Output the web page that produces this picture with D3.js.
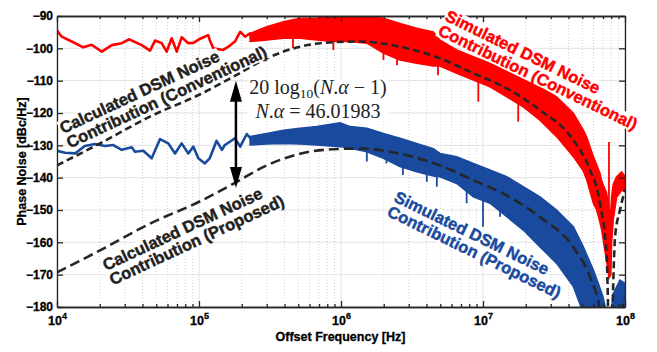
<!DOCTYPE html>
<html>
<head>
<meta charset="utf-8">
<script src="https://cdn.jsdelivr.net/npm/d3@7"></script>
<style>
  body { margin: 0; background: #fff; }
  svg { display: block; font-family: "Liberation Sans", Arial, sans-serif; }
</style>
</head>
<body>
<div id="chart"></div>
<script>
// ---- data: [frequency Hz, dBc/Hz] ----
const redLow = [[1.0e4,-94.5],[1.08e4,-96.4],[1.27e4,-97.9],[1.53e4,-99.7],[1.75e4,-98.9],[2.07e4,-101.0],
  [2.43e4,-99.0],[2.86e4,-98.4],[3.21e4,-97.2],[3.95e4,-99.0],[4.52e4,-100.7],[4.90e4,-97.6],[5.46e4,-98.4],
  [5.92e4,-101.0],[6.42e4,-96.9],[6.97e4,-101.0],[7.55e4,-96.6],[8.41e4,-98.4],[9.12e4,-98.3],[1.0e5,-97.2],
  [1.10e5,-96.4],[1.16e5,-95.9],[1.19e5,-97.4],[1.26e5,-100.0],[1.48e5,-100.5],[1.61e5,-99.5],[1.79e5,-97.9],
  [1.95e5,-94.9],[2.11e5,-96.4],[2.29e5,-95.4],[2.41e5,-96.9]];

// noisy band: [frequency, upper edge, lower edge]
const redBand = [[2.29e5,-95.4,-97.9],[3.0e5,-93.3,-97.4],[3.93e5,-91.8,-96.9],[5.14e5,-90.7,-96.9],
  [6.74e5,-90.7,-97.4],[8.83e5,-89.5,-97.9],[1.16e6,-90.5,-97.9],[1.52e6,-90.2,-98.4],[1.99e6,-90.7,-101.5],
  [2.60e6,-92.3,-103.6],[3.41e6,-93.8,-104.6],[4.47e6,-94.9,-105.5],[4.98e6,-97.5,-105.5],[6.53e6,-100.5,-107.7],
  [8.55e6,-102.6,-109.8],[1.12e7,-104.6,-111.9],[1.47e7,-106.7,-115.0],[1.92e7,-108.8,-118.1],
  [2.52e7,-111.9,-122.2],[3.30e7,-115.0,-127.3],[4.33e7,-120.1,-133.5],[5.09e7,-125.3,-138.0],
  [5.38e7,-127.5,-140.7],[5.99e7,-133.5,-148.0],[6.32e7,-136.0,-150.0],[6.67e7,-138.7,-154.0],
  [6.85e7,-141.0,-156.2],[7.43e7,-144.8,-166.0],[7.71e7,-150.0,-171.0],[7.95e7,-150.0,-170.0],
  [8.05e7,-146.0,-160.0],[8.27e7,-142.0,-153.0],[8.73e7,-139.7,-146.0],[9.48e7,-138.2,-144.0],[1.0e8,-139.7,-144.0]];

// downward spikes: [frequency, top, bottom]
const redSpikes = [[4.59e5,-97,-99.9],[8.83e5,-97.5,-100.5],[1.99e6,-100,-103.6],[2.48e6,-102,-105.2],
  [4.82e6,-105,-108.3],[9.27e6,-110,-116.5],[1.77e7,-117,-122.7],[7.71e7,-129,-170]];

const blueLow = [[1.0e4,-131.7],[1.14e4,-132.3],[1.34e4,-132.5],[1.57e4,-130.2],[1.85e4,-129.6],[2.18e4,-130.2],
  [2.49e4,-129.9],[2.86e4,-131.4],[3.36e4,-130.6],[3.54e4,-132.0],[4.05e4,-131.7],[4.64e4,-134.0],[5.31e4,-128.1],
  [6.08e4,-129.4],[6.78e4,-132.5],[7.55e4,-129.4],[8.41e4,-132.5],[9.12e4,-130.4],[9.89e4,-134.0],[1.10e5,-135.6],
  [1.19e5,-134.0],[1.33e5,-128.6],[1.45e5,-131.4],[1.52e5,-129.9],[1.65e5,-128.9],[1.79e5,-127.8],[1.95e5,-130.4],
  [2.17e5,-126.5],[2.41e5,-128.9]];

const blueBand = [[2.29e5,-127.3,-129.9],[3.0e5,-126.3,-129.6],[3.93e5,-125.3,-129.4],[5.14e5,-124.7,-129.6],
  [6.74e5,-124.2,-129.9],[9.84e5,-123.0,-130.4],[1.16e6,-124.2,-130.9],[1.52e6,-124.7,-132.0],
  [1.99e6,-126.3,-134.0],[2.60e6,-127.8,-136.6],[3.41e6,-129.4,-138.2],[4.47e6,-131.0,-139.5],
  [4.98e6,-132.5,-139.7],[6.53e6,-133.5,-141.8],[8.55e6,-135.6,-145.9],[1.12e7,-137.6,-147.9],
  [1.47e7,-139.7,-152.1],[1.92e7,-142.8,-156.2],[2.52e7,-145.9,-161.4],[3.30e7,-150.0,-166.5],
  [4.33e7,-155.2,-173.7],[5.09e7,-161.4,-182],[5.99e7,-168.6,-190],[6.49e7,-172.7,-190],[7.0e7,-176.8,-190],
  [7.43e7,-182,-190],[7.84e7,-185,-190],[8.27e7,-175.8,-190],[9.22e7,-171.7,-190],[1.0e8,-172.7,-190]];

const blueSpikes = [[1.52e6,-131,-135],[2.09e6,-133,-135.6],[2.73e6,-136,-139.2],[4.02e6,-138.5,-141.3],
  [4.73e6,-139,-142.8],[7.67e6,-143,-147.9],[1.0e7,-146,-155.2],[1.32e7,-149,-152.1]];

const calcConv = [[1.0e4,-136.2],[2.01e4,-129.4],[4.52e4,-121.1],[1.02e5,-114.2],[1.74e5,-108.8],[3.0e5,-103.1],
  [5.14e5,-99.5],[8.83e5,-98.1],[1.36e6,-97.9],[2.60e6,-99.5],[4.98e6,-103.1],[8.55e6,-107.7],[1.47e7,-112.4],
  [2.52e7,-119.1],[4.33e7,-128.4],[5.67e7,-137.6],[6.67e7,-147.9],[7.43e7,-164.5],[7.84e7,-200],
  [8.51e7,-158.3],[9.22e7,-150.0],[1.0e8,-143.8]];

const calcProp = [[1.0e4,-169.3],[2.01e4,-162.5],[4.52e4,-154.2],[1.02e5,-147.3],[1.74e5,-141.9],[3.0e5,-136.2],
  [5.14e5,-132.6],[8.83e5,-131.2],[1.36e6,-131.0],[2.60e6,-132.6],[4.98e6,-136.2],[8.55e6,-140.8],[1.47e7,-145.5],
  [2.52e7,-152.2],[4.33e7,-161.5],[5.67e7,-170.7],[6.67e7,-181],[7.43e7,-197.6],[7.84e7,-233],
  [8.51e7,-191.4],[9.22e7,-183.1],[1.0e8,-176.9]];

const arrowAt = [1.82e5, -110.0, -143.2];   // frequency, top, bottom

const yTicks = [-90, -100, -110, -120, -130, -140, -150, -160, -170, -180];
const xDecades = [4, 5, 6, 7, 8];

const labelCalcConv = ["Calculated DSM Noise", "Contribution (Conventional)"];
const labelSimConv = ["Simulated DSM Noise", "Contribution (Conventional)"];
const labelCalcProp = ["Calculated DSM Noise", "Contribution (Proposed)"];
const labelSimProp = ["Simulated DSM Noise", "Contribution (Proposed)"];

// ---- layout ----
const width = 657, height = 352;
const margin = { top: 16, left: 57 };
const w = 625 - 57, h = 307 - 16;
const RED = "#ff0000", BLUE = "#1a4a9e", INK = "#262626";

const svg = d3.select("#chart").append("svg")
  .attr("width", width).attr("height", height);

const x = d3.scaleLog().domain([1e4, 1e8]).range([0, w]);
const y = d3.scaleLinear().domain([-180, -90]).range([h, 0]);

const chart = svg.append("g").attr("transform", `translate(${margin.left}, ${margin.top})`);

svg.append("defs").append("clipPath").attr("id", "plot")
  .append("rect").attr("width", w).attr("height", h);

const majors = xDecades.map(e => Math.pow(10, e));
const minors = x.ticks().filter(t => !majors.some(m => Math.abs(m - t) < 1e-6 * m));

// grid
chart.append("g").selectAll("line").data(yTicks).join("line")
  .attr("x1", 0).attr("x2", w).attr("y1", d => y(d)).attr("y2", d => y(d))
  .attr("stroke", "#e2e2e2").attr("stroke-width", 1);
chart.append("g").selectAll("line").data(majors).join("line")
  .attr("x1", d => x(d)).attr("x2", d => x(d)).attr("y1", 0).attr("y2", h)
  .attr("stroke", "#e2e2e2").attr("stroke-width", 1);
chart.append("g").selectAll("line").data(minors).join("line")
  .attr("x1", d => x(d)).attr("x2", d => x(d)).attr("y1", 0).attr("y2", h)
  .attr("stroke", "#d4d4d4").attr("stroke-width", 1).attr("stroke-dasharray", "1,2");

// data
const plot = chart.append("g").attr("clip-path", "url(#plot)");

const line = d3.line().x(d => x(d[0])).y(d => y(d[1]));
const smooth = d3.line().x(d => x(d[0])).y(d => y(d[1])).curve(d3.curveMonotoneX);
const band = d3.area().x(d => x(d[0])).y0(d => y(d[2])).y1(d => y(d[1]));

function trace(low, bnd, spikes, color) {
  plot.append("path").datum(low).attr("d", line)
    .attr("fill", "none").attr("stroke", color).attr("stroke-width", 2.6).attr("stroke-linejoin", "round");
  plot.append("path").datum(bnd).attr("d", band)
    .attr("fill", color).attr("stroke", color).attr("stroke-width", 1.5);
  plot.append("g").selectAll("line").data(spikes).join("line")
    .attr("x1", d => x(d[0])).attr("x2", d => x(d[0]))
    .attr("y1", d => y(d[1])).attr("y2", d => y(d[2]))
    .attr("stroke", color).attr("stroke-width", 1.8);
}
trace(redLow, redBand, redSpikes, RED);
trace(blueLow, blueBand, blueSpikes, BLUE);

plot.append("path").datum(calcConv).attr("d", smooth)
  .attr("fill", "none").attr("stroke", INK).attr("stroke-width", 2.6).attr("stroke-dasharray", "7,4");
plot.append("path").datum(calcProp).attr("d", smooth)
  .attr("fill", "none").attr("stroke", INK).attr("stroke-width", 2.6).attr("stroke-dasharray", "10,5");

// axes (ticks inside, box)
function styleAxis(g) {
  g.selectAll("path, line").attr("stroke", INK).attr("stroke-width", 1.3);
  g.selectAll("text").attr("fill", "#000").attr("font-weight", "bold");
}
chart.append("g").attr("transform", `translate(0, ${h})`)
  .call(d3.axisBottom(x).tickValues(majors).tickSize(-6).tickSizeOuter(0).tickPadding(9).tickFormat(""))
  .call(styleAxis)
  .call(g => g.selectAll(".tick").append("text")
    .attr("y", 18).attr("text-anchor", "middle").attr("font-size", 12.5).attr("font-weight", "bold")
    .attr("fill", "#000").attr("stroke", "#000").attr("stroke-width", 0.3)
    .each(function (d) {
      const t = d3.select(this);
      t.append("tspan").text("10");
      t.append("tspan").attr("dy", -6).attr("font-size", 9).text(Math.round(Math.log10(d)));
    }));
chart.append("g").attr("transform", `translate(0, ${h})`)
  .call(d3.axisBottom(x).tickValues(minors).tickSize(-3).tickSizeOuter(0).tickFormat(""))
  .call(styleAxis);
chart.append("g")
  .call(d3.axisTop(x).tickValues(majors).tickSize(-6).tickSizeOuter(0).tickFormat(""))
  .call(styleAxis);
chart.append("g")
  .call(d3.axisTop(x).tickValues(minors).tickSize(-3).tickSizeOuter(0).tickFormat(""))
  .call(styleAxis);
chart.append("g")
  .call(d3.axisLeft(y).tickValues(yTicks).tickSize(-6).tickSizeOuter(0).tickPadding(4))
  .call(styleAxis)
  .call(g => g.selectAll("text").attr("font-size", 12).attr("stroke", "#000").attr("stroke-width", 0.3));
chart.append("g").attr("transform", `translate(${w}, 0)`)
  .call(d3.axisRight(y).tickValues(yTicks).tickSize(-6).tickSizeOuter(0).tickFormat(""))
  .call(styleAxis);

// axis titles
svg.append("text")
  .attr("x", margin.left + w / 2 - 0.5).attr("y", 341)
  .attr("text-anchor", "middle").attr("font-size", 12.5).attr("font-weight", "bold")
  .attr("stroke", "#000").attr("stroke-width", 0.3)
  .text("Offset Frequency [Hz]");
svg.append("text")
  .attr("transform", `translate(26, ${margin.top + h / 2}) rotate(-90)`)
  .attr("text-anchor", "middle").attr("font-size", 12.5).attr("font-weight", "bold")
  .attr("stroke", "#000").attr("stroke-width", 0.3)
  .text("Phase Noise [dBc/Hz]");

// double arrow
const ax = margin.left + x(arrowAt[0]);
const ay1 = margin.top + y(arrowAt[1]), ay2 = margin.top + y(arrowAt[2]);
const arrow = svg.append("g");
arrow.append("line").attr("x1", ax).attr("x2", ax).attr("y1", ay1 + 10).attr("y2", ay2 - 10)
  .attr("stroke", "#000").attr("stroke-width", 2.5);
arrow.append("path").attr("d", `M${ax},${ay1} L${ax - 6},${ay1 + 21} L${ax + 6},${ay1 + 21} Z`).attr("fill", "#000");
arrow.append("path").attr("d", `M${ax},${ay2} L${ax - 6},${ay2 - 21} L${ax + 6},${ay2 - 21} Z`).attr("fill", "#000");

// rotated labels, each line on its own white box
function label(lines, x0, y0, angle, color, size, gap) {
  const g = svg.append("g").attr("transform", `translate(${x0}, ${y0}) rotate(${angle})`);
  lines.forEach((s, i) => {
    const row = g.append("g");
    const t = row.append("text").attr("x", 0).attr("y", i * gap)
      .attr("font-size", size).attr("font-weight", "bold").attr("fill", color)
      .attr("stroke", color).attr("stroke-width", 0.45).text(s);
    const b = t.node().getBBox();
    row.insert("rect", "text").attr("x", b.x - 1).attr("y", b.y + 1.5)
      .attr("width", b.width + 2).attr("height", b.height - 2.5).attr("fill", "#fff");
  });
}
label(labelCalcConv, 63, 134, -25, "#231f20", 16.5, 16);
label(labelSimConv, 444, 20, 26, RED, 16.5, 16);
label(labelCalcProp, 106, 271, -25, "#231f20", 16.5, 16);
label(labelSimProp, 393, 201, 26, BLUE, 16.5, 16);

// math annotation
const mg = svg.append("g");
const mt = mg.append("text").attr("font-family", "'Liberation Serif', 'Times New Roman', serif")
  .attr("font-size", 20).attr("fill", "#222").attr("text-anchor", "middle");
const l1 = mt.append("tspan").attr("x", 318).attr("y", 94);
l1.append("tspan").text("20 log");
l1.append("tspan").attr("font-size", 13.5).attr("dy", 4).text("10");
l1.append("tspan").attr("dy", -4).text("(");
l1.append("tspan").attr("font-style", "italic").text("N");
l1.append("tspan").text(".");
l1.append("tspan").attr("font-style", "italic").text("α");
l1.append("tspan").text(" − 1)");
const l2 = mt.append("tspan").attr("x", 318).attr("y", 118);
l2.append("tspan").attr("font-style", "italic").text("N");
l2.append("tspan").text(".");
l2.append("tspan").attr("font-style", "italic").text("α");
l2.append("tspan").text(" = 46.01983");
const mb = mt.node().getBBox();
mg.insert("rect", "text").attr("x", mb.x - 2).attr("y", mb.y + 3)
  .attr("width", mb.width + 4).attr("height", mb.height - 4).attr("fill", "#fff");
</script>
</body>
</html>
